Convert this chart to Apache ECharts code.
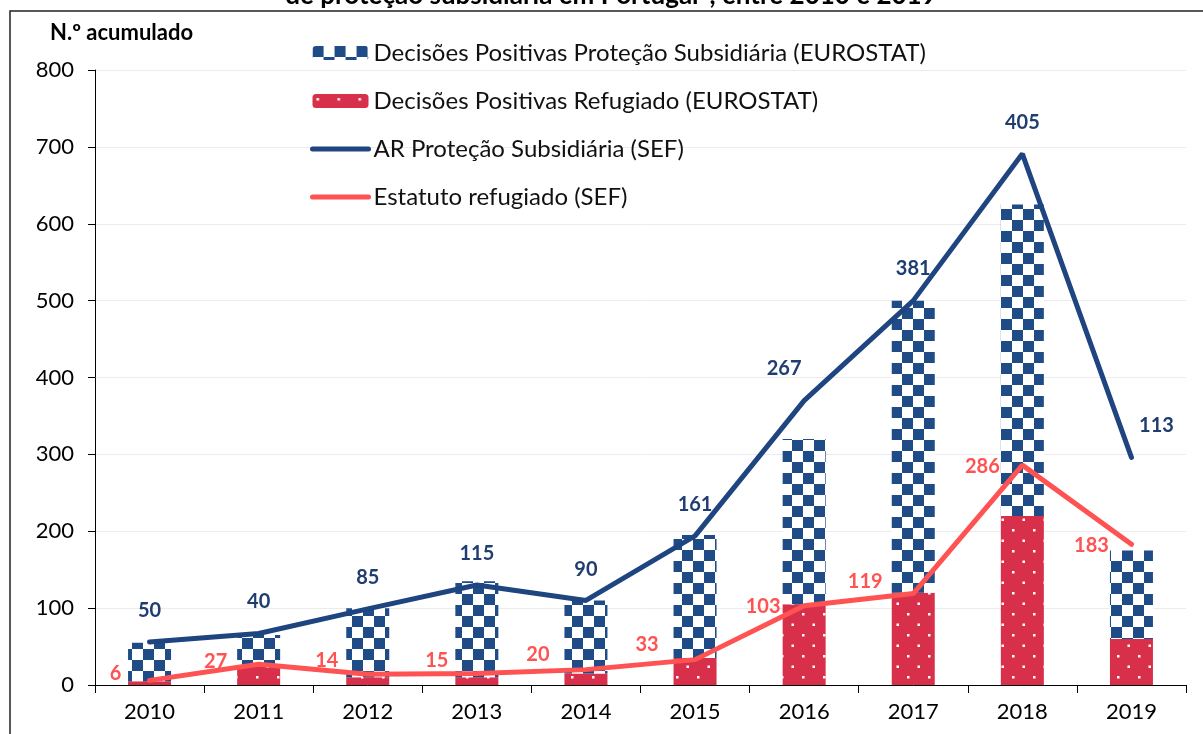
<!DOCTYPE html>
<html>
<head>
<meta charset="utf-8">
<script src="https://cdn.jsdelivr.net/npm/echarts@6/dist/echarts.min.js"></script>
<style>
html, body { margin: 0; padding: 0; background: #fff; }
#chart { width: 1203px; height: 734px; }
</style>
</head>
<body>
<div id="chart"></div>
<script>
// dados
const years = ['2010', '2011', '2012', '2013', '2014', '2015', '2016', '2017', '2018', '2019'];
const eurostatSubsidiaria = [50, 40, 90, 125, 95, 160, 215, 380, 405, 115];
const eurostatRefugiado = [5, 25, 10, 10, 15, 35, 105, 120, 220, 60];
const sefSubsidiaria = [50, 40, 85, 115, 90, 161, 267, 381, 405, 113];
const sefRefugiado = [6, 27, 14, 15, 20, 33, 103, 119, 286, 183];
const yTicks = [0, 100, 200, 300, 400, 500, 600, 700, 800];

// deslocamento das etiquetas (px)
const blueLabelOffsets = [[0, -31], [0, -32], [0, -31], [0, -32], [0, -31], [0, -31], [-20, -32], [0, -32], [0, -31], [25, -32]];
const redLabelOffsets = [[-34, -7], [-43, -3], [-41, -14], [-40, -13], [-48, -15], [-48, -15], [-41, 1], [-48, -12], [-40, 1], [-40, 1]];

const BLUE = '#1F4B87';
const BLUE_LINE = '#1F4580';
const BLUE_TEXT = '#1F3D70';
const RED = '#D8304A';
const RED_LINE = '#FF5252';

function checkerPattern() {
    const c = document.createElement('canvas');
    const s = 11;
    c.width = s * 2;
    c.height = s * 2;
    const ctx = c.getContext('2d');
    ctx.fillStyle = '#fff';
    ctx.fillRect(0, 0, s * 2, s * 2);
    ctx.fillStyle = BLUE;
    ctx.fillRect(0, 0, s, s);
    ctx.fillRect(s, s, s, s);
    return c;
}

function dotPattern() {
    const c = document.createElement('canvas');
    c.width = 21;
    c.height = 21;
    const ctx = c.getContext('2d');
    ctx.fillStyle = RED;
    ctx.fillRect(0, 0, 21, 21);
    ctx.fillStyle = '#fff';
    ctx.fillRect(4, 4, 2.5, 2.5);
    ctx.fillRect(14.5, 14.5, 2.5, 2.5);
    return c;
}

const myChart = echarts.init(document.getElementById('chart'));

const option = {
    animation: false,
    backgroundColor: '#fff',
    grid: {
        left: 95,
        right: 17,
        top: 70,
        bottom: 49
    },
    legend: {
        orient: 'vertical',
        left: 305,
        top: 36,
        itemWidth: 56,
        itemHeight: 14,
        itemGap: 24,
        textStyle: {
            fontFamily: 'Lato',
            fontSize: 24,
            lineHeight: 24,
            color: '#111'
        },
        data: [
            { name: 'Decisões Positivas Proteção Subsidiária (EUROSTAT)' },
            { name: 'Decisões Positivas Refugiado (EUROSTAT)' },
            { name: 'AR Proteção Subsidiária (SEF)', itemStyle: { opacity: 0 }, lineStyle: { width: 5, cap: 'round' } },
            { name: 'Estatuto refugiado (SEF)', itemStyle: { opacity: 0 }, lineStyle: { width: 5, cap: 'round' } }
        ]
    },
    xAxis: {
        type: 'category',
        data: years,
        axisLine: { lineStyle: { color: '#000', width: 1 } },
        axisTick: { show: true, interval: 0, length: 8, lineStyle: { color: '#000' } },
        axisLabel: {
            fontFamily: 'Lato',
            fontSize: 22,
            color: '#000',
            margin: 16
        }
    },
    yAxis: {
        type: 'value',
        min: yTicks[0],
        max: yTicks[yTicks.length - 1],
        interval: 100,
        axisLine: { show: true, lineStyle: { color: '#000', width: 1 } },
        axisTick: { show: true, length: 7, lineStyle: { color: '#000' } },
        axisLabel: {
            fontFamily: 'Lato',
            fontSize: 22,
            color: '#000',
            margin: 21
        },
        splitLine: { lineStyle: { color: '#ececec', width: 1 } }
    },
    graphic: [
        {
            type: 'rect',
            shape: { x: 10, y: 11, width: 1220, height: 760 },
            style: { fill: 'none', stroke: '#222', lineWidth: 1.5 },
            silent: true
        },
        {
            type: 'text',
            x: 611,
            y: -17,
            style: {
                text: 'de proteção subsidiária em Portugal*, entre 2010 e 2019',
                font: 'bold 26px Lato',
                fill: '#000',
                textAlign: 'center'
            }
        },
        {
            type: 'text',
            left: 50,
            top: 22,
            style: {
                text: 'N.º acumulado',
                font: 'bold 22px Lato',
                fill: '#000'
            }
        }
    ],
    series: [
        {
            name: 'Decisões Positivas Refugiado (EUROSTAT)',
            type: 'bar',
            stack: 'eurostat',
            barWidth: 43,
            itemStyle: { color: { image: dotPattern(), repeat: 'repeat' } },
            data: eurostatRefugiado
        },
        {
            name: 'Decisões Positivas Proteção Subsidiária (EUROSTAT)',
            type: 'bar',
            stack: 'eurostat',
            barWidth: 43,
            itemStyle: { color: { image: checkerPattern(), repeat: 'repeat' } },
            data: eurostatSubsidiaria
        },
        {
            name: 'Estatuto refugiado (SEF)',
            type: 'line',
            stack: 'sef',
            symbol: 'circle',
            symbolSize: 2,
            z: 5,
            itemStyle: { color: RED_LINE },
            lineStyle: { color: RED_LINE, width: 5, cap: 'round' },
            label: {
                show: true,
                position: 'inside',
                fontFamily: 'Lato',
                fontWeight: 'bold',
                fontSize: 20,
                color: RED_LINE
            },
            data: sefRefugiado.map((v, i) => ({ value: v, label: { offset: redLabelOffsets[i] } }))
        },
        {
            name: 'AR Proteção Subsidiária (SEF)',
            type: 'line',
            stack: 'sef',
            symbol: 'circle',
            symbolSize: 2,
            z: 6,
            itemStyle: { color: BLUE_LINE },
            lineStyle: { color: BLUE_LINE, width: 5, cap: 'round' },
            label: {
                show: true,
                position: 'inside',
                fontFamily: 'Lato',
                fontWeight: 'bold',
                fontSize: 20,
                color: BLUE_TEXT
            },
            data: sefSubsidiaria.map((v, i) => ({ value: v, label: { offset: blueLabelOffsets[i] } }))
        }
    ]
};

myChart.setOption(option);
window.addEventListener('resize', () => {
    myChart.resize();
});
</script>
</body>
</html>
